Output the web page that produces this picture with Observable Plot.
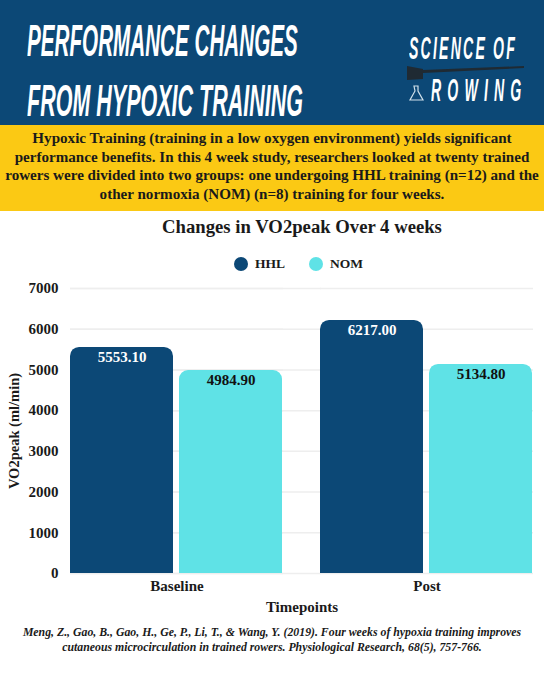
<!DOCTYPE html>
<html><head><meta charset="utf-8">
<script src="https://cdn.jsdelivr.net/npm/d3@7"></script>
<script src="https://cdn.jsdelivr.net/npm/@observablehq/plot@0.6"></script>
<style>
html,body{margin:0;padding:0;background:#fff}
#page{position:relative;width:544px;height:680px;overflow:hidden;font-family:"Liberation Serif",serif;color:#1a1a1a}
#page>*{position:absolute}
.band{left:0;width:544px}
.h{white-space:nowrap;color:#fff;font-family:"Liberation Sans",sans-serif;font-style:italic;font-weight:bold;transform-origin:0 0}
.c{left:0;width:544px;text-align:center;white-space:nowrap}
.lg{font-weight:bold;font-size:13.5px;white-space:nowrap}
.dot{width:14px;height:14px;border-radius:50%}
#chart{left:0;top:270px}
</style></head><body>
<div id="page">
  <div class="band" style="top:0;height:125px;background:#0c4876"></div>
  <div class="band" style="top:125px;height:86px;background:#fbc914"></div>
  <div class="h" style="left:27px;top:16px;font-size:45px;line-height:50px;transform:scaleX(.459)">PERFORMANCE CHANGES</div>
  <div class="h" style="left:27px;top:76px;font-size:45px;line-height:50px;transform:scaleX(.478)">FROM HYPOXIC TRAINING</div>
  <div class="h" style="left:409px;top:31px;font-size:32px;line-height:34px;letter-spacing:5px;transform:scaleX(.44)">SCIENCE OF</div>
  <div class="h" style="left:431px;top:73px;font-size:32px;line-height:34px;letter-spacing:14px;transform:scaleX(.44)">ROWING</div>
  <svg style="left:385px;top:55px" width="150" height="50">
    <path d="M22 11L38 14V24L22 25Z M38 15L139 11V13L38 18Z" fill="#1f2a33"/>
    <path d="M29 31h4v5l5 9h-13l5-9z" fill="none" stroke="#cfe0ea" stroke-width="1.2"/>
  </svg>
  <div class="c" style="top:129px;font-size:15.1px;line-height:18.7px;font-weight:bold" id="intro"></div>
  <div class="c" style="top:217px;left:30px;font-size:18.7px;line-height:20px;font-weight:bold" id="ttl"></div>
  <div class="dot" style="left:234px;top:257px;background:#0c4876"></div>
  <div class="lg" style="left:255px;top:256px">HHL</div>
  <div class="dot" style="left:309px;top:257px;background:#5fe2e6"></div>
  <div class="lg" style="left:330px;top:256px">NOM</div>
  <div id="chart"></div>
  <div class="c" style="top:625px;font-size:11.8px;line-height:15px;font-style:italic;font-weight:bold" id="cite"></div>
</div>
<script>
const timepoints = ["Baseline", "Post"];
const groups = ["HHL", "NOM"];
const hhlValues = [5553.10, 6217.00];
const nomValues = [4984.90, 5134.80];
const yTicks = [0, 1000, 2000, 3000, 4000, 5000, 6000, 7000];
const groupColors = ["#0c4876", "#5fe2e6"];
const labelColors = ["#ffffff", "#111111"];
const introLines = [
  "Hypoxic Training (training in a low oxygen environment) yields significant",
  "performance benefits. In this 4 week study, researchers looked at twenty trained",
  "rowers were divided into two groups: one undergoing HHL training (n=12) and the",
  "other normoxia (NOM) (n=8) training for four weeks."
];
const citeLines = [
  "Meng, Z., Gao, B., Gao, H., Ge, P., Li, T., & Wang, Y. (2019). Four weeks of hypoxia training improves",
  "cutaneous microcirculation in trained rowers. Physiological Research, 68(5), 757-766."
];
document.getElementById("intro").innerHTML = introLines.join("<br>");
document.getElementById("cite").innerHTML = citeLines.map(s => s.replace("&", "&amp;")).join("<br>");
document.getElementById("ttl").textContent = "Changes in VO2peak Over 4 weeks";

const rows = timepoints.flatMap((t, i) => [
  {t, g: groups[0], v: hhlValues[i]},
  {t, g: groups[1], v: nomValues[i]}
]);

const plot = Plot.plot({
  width: 544, height: 345,
  marginTop: 18, marginBottom: 42, marginLeft: 69, marginRight: 11,
  style: {fontFamily: '"Liberation Serif", serif', fontWeight: "bold", fontSize: "15px", color: "#1a1a1a", background: "transparent"},
  x: {domain: groups, axis: null, paddingInner: 0.055, paddingOuter: 0},
  fx: {domain: timepoints, paddingInner: 0.15, paddingOuter: 0, label: null, tickSize: 0, tickPadding: 7, axis: "bottom"},
  y: {domain: [0, 7000], ticks: yTicks, label: null, axis: null},
  color: {domain: groups, range: groupColors},
  marks: [
    Plot.ruleY(yTicks, {stroke: "#eeeeee", strokeWidth: 1.5}),
    Plot.ruleY(yTicks, {fx: () => timepoints[0], stroke: "#eeeeee", strokeWidth: 1.5, insetRight: -38, clip: false}),
    Plot.barY(rows, {fx: "t", x: "g", y: "v", fill: "g", ry1: 9, rx: 9}),
    Plot.text(rows, {fx: "t", x: "g", y: "v", text: d => d.v.toFixed(2), dy: 10, fontSize: 15, fontWeight: "bold",
      fill: d => labelColors[groups.indexOf(d.g)]}),
    Plot.axisY({ticks: yTicks, tickSize: 0, tickPadding: 12, label: null, tickFormat: d => String(d), fontSize: 15, anchor: "left"}),
    Plot.text(["Timepoints"], {frameAnchor: "bottom", facet: "super", dy: 38, fontSize: 15, fontWeight: "bold"}),
    Plot.text(["VO2peak (ml/min)"], {frameAnchor: "left", textAnchor: "middle", facet: "super", rotate: -90, dx: -56, fontSize: 14.5, fontWeight: "bold"})
  ]
});
document.getElementById("chart").appendChild(plot);
</script>
</body></html>
